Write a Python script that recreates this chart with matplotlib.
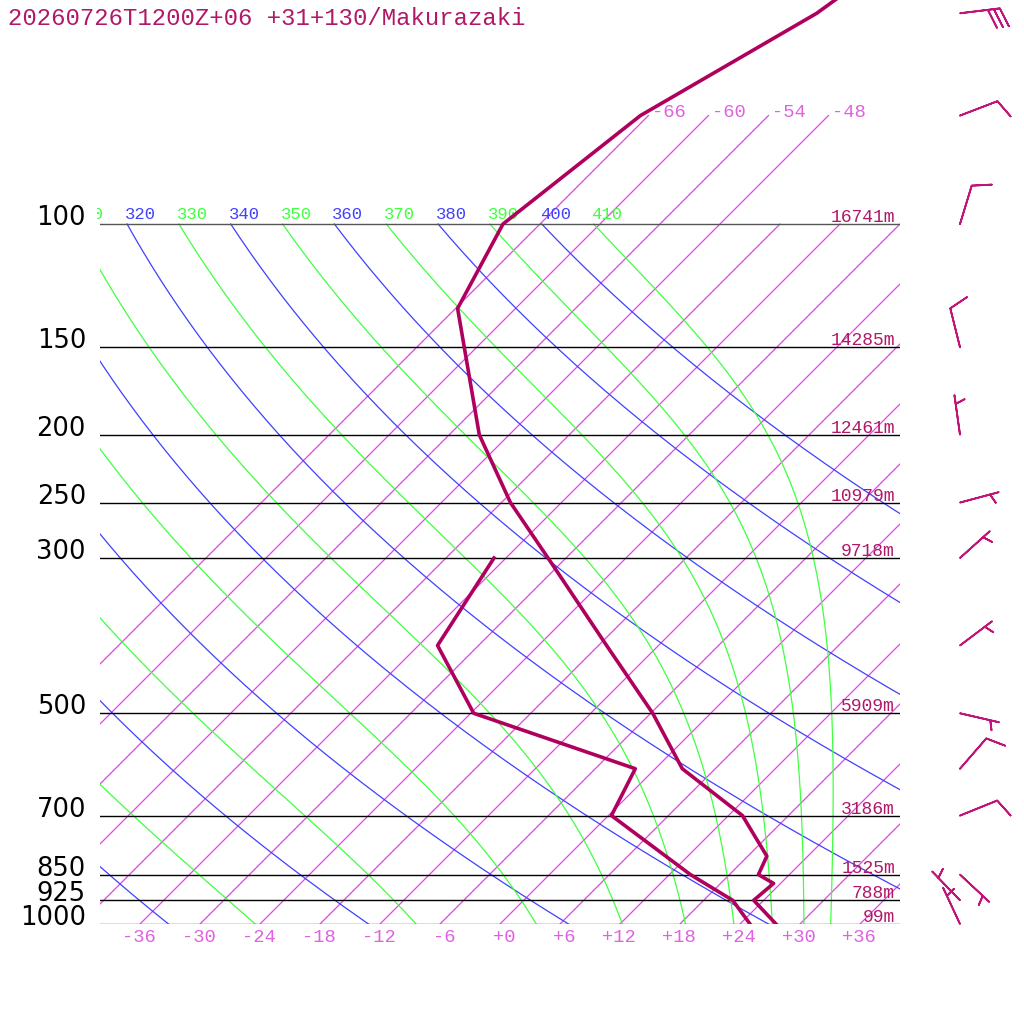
import numpy as np
import matplotlib
matplotlib.use("Agg")
import matplotlib.pyplot as plt
from matplotlib.patches import Rectangle

TITLE = "20260726T1200Z+06 +31+130/Makurazaki"

# sounding: pressure (hPa) / temperature (degC)
temp_p = [1000, 925, 875, 850, 800, 700, 600, 500, 400, 300, 250, 200, 132, 100, 70, 50, 30]
temp_t = [27.6, 23.0, 23.3, 20.9, 19.9, 13.4, 2.7, -5.8, -17.2, -31.8, -41.1, -51.0,
          -65.8, -69.7, -66.8, -59.4, -53.5]
dew_p = [1000, 925, 850, 700, 600, 500, 400, 300]
dew_t = [25.0, 20.9, 14.1, 0.3, -2.0, -23.7, -34.1, -37.2]

# standard levels + geopotential height
levels = [100, 150, 200, 250, 300, 500, 700, 850, 925, 1000]
heights = [16741, 14285, 12461, 10979, 9718, 5909, 3186, 1525, 788, 99]

# winds: direction (deg, blowing from) and speed
wind_p = [50, 70, 100, 150, 200, 250, 300, 400, 500, 600, 700, 850, 925, 1000]
wind_dir = [83, 69, 17, 346, 352, 75, 48, 53, 103, 41, 68, 133, 316, 335]
wind_spd = [30, 10, 10, 10, 5, 5, 5, 5, 5, 10, 10, 5, 5, 5]

isotherms = list(range(-66, 37, 6))
top_labelled = [-66, -60, -54, -48]
bottom_labels = list(range(-36, 37, 6))
dry_thetas = list(range(240, 401, 20))
moist_thetas = list(range(250, 411, 20))

PROFILE = "#b0005e"
TEXTC = "#b01868"
BARBC = "#c01478"
ISOC = "#e444e8"
ISOLAB = "#e060e0"
DRYC = "#4040ff"
MOISTC = "#40ff40"
MONO = "Liberation Mono"

RD, CP, LV, EPS = 287.04, 1005.7, 2.501e6, 0.622
KAPPA = RD / CP
SKEW = 70.0          # degC of shift per decade of pressure
PX_DECADE = 700.0    # pixels per decade of pressure


def skew(t, p):
    return np.asarray(t, float) + SKEW * np.log10(1000.0 / np.asarray(p, float))


def shift(p, dy):
    # move a pressure position by dy pixels (positive = down)
    return p * 10 ** (dy / PX_DECADE)


def sat_mix(t, p):
    tc = t - 273.15
    es = 6.112 * np.exp(17.67 * tc / (tc + 243.5))
    return EPS * es / (p - es)


def moist_rate(t, p):
    rs = sat_mix(t, p)
    return (RD * t + LV * rs) / (CP + LV * LV * rs * EPS / (RD * t * t))


def moist_adiabat(theta, pres):
    t = theta * (pres[0] / 1000.0) ** KAPPA
    out = [t]
    for p0, p1 in zip(pres[:-1], pres[1:]):
        h = np.log(p1 / p0)
        pm = p0 * np.exp(h / 2)
        k1 = moist_rate(t, p0)
        k2 = moist_rate(t + h / 2 * k1, pm)
        k3 = moist_rate(t + h / 2 * k2, pm)
        k4 = moist_rate(t + h * k3, p1)
        t = t + h / 6 * (k1 + 2 * k2 + 2 * k3 + k4)
        out.append(t)
    return np.array(out) - 273.15


fig = plt.figure(figsize=(10.24, 10.24), dpi=100)
ax = fig.add_axes([100 / 1024, 100 / 1024, 800 / 1024, 924 / 1024])
ax.set_yscale("log")
ax.set_xlim(-40, 40)
ax.set_ylim(1000, 1000 * 10 ** (-924 / PX_DECADE))
ax.axis("off")

pres = np.geomspace(100, 1000, 300)

# isotherms
for t in isotherms:
    ptop = 70 if t <= -48 else 100
    pp = np.geomspace(ptop, 1000, 50)
    ax.plot(skew(np.full_like(pp, t), pp), pp, color=ISOC, lw=0.9, zorder=1)
for t in top_labelled:
    ax.text(skew(t, 70) + 0.35, shift(70, 1), f"{t:d}", color=ISOLAB, family=MONO,
            fontsize=13.5, ha="left", va="baseline")

# dry and moist adiabats
clip = Rectangle((-0.004, 0), 1.01, 1, transform=ax.transAxes, visible=False)
ax.add_patch(clip)
for th in dry_thetas:
    tt = th * (pres / 1000.0) ** KAPPA - 273.15
    ax.plot(skew(tt, pres), pres, color=DRYC, lw=0.9, zorder=1)
for th in moist_thetas:
    tt = moist_adiabat(th, pres)
    ax.plot(skew(tt, pres), pres, color=MOISTC, lw=0.9, zorder=1)
for th, col in sorted([(d, DRYC) for d in dry_thetas] + [(m, MOISTC) for m in moist_thetas]):
    x100 = skew(th * 0.1 ** KAPPA - 273.15, 100)
    if -45 < x100 < 40:
        txt = ax.text(x100 - 0.2, shift(100, -5), str(th), color=col, family=MONO,
                      fontsize=12.4, ha="left", va="baseline", clip_on=True)
        txt.set_clip_path(clip)

# isobars
for lev, h in zip(levels, heights):
    col = "#555555" if lev in (100, 1000) else "black"
    ax.plot([-40, 40], [lev, lev], color=col, lw=1.0, zorder=2)
    ax.text(-41.4, shift(lev, 1), str(lev), color="black", family="DejaVu Sans",
            fontsize=18.5, ha="right", va="baseline", clip_on=False)
    ax.text(39.5, shift(lev, -2), f"{h}m", color=TEXTC, family=MONO,
            fontsize=13, ha="right", va="baseline", zorder=6)

for t in bottom_labels:
    ax.text(skew(t, 1000) + 1.6, shift(1000, 18), f"{t:+d}", color=ISOLAB, family=MONO,
            fontsize=13.5, ha="right", va="baseline", clip_on=False)

# profiles
ax.plot(skew(temp_t, temp_p), temp_p, color=PROFILE, lw=2.6, zorder=5)
ax.plot(skew(dew_t, dew_p), dew_p, color=PROFILE, lw=2.6, zorder=5)

# wind barbs
d = np.radians(wind_dir)
spd = np.asarray(wind_spd, float)
u = -spd * np.sin(d)
v = -spd * np.cos(d)
ax.barbs(np.full(len(wind_p), 46.0), wind_p, u, v, length=7.6,
         sizes=dict(spacing=0.15, height=0.47, width=0.34),
         color=BARBC, linewidth=1.3, clip_on=False, zorder=6)

fig.text(8 / 1024, 1 - 25 / 1024, TITLE, color=TEXTC, family=MONO, fontsize=17.2,
         ha="left", va="baseline")

fig.savefig("out.png", dpi=100)
plt.close(fig)
